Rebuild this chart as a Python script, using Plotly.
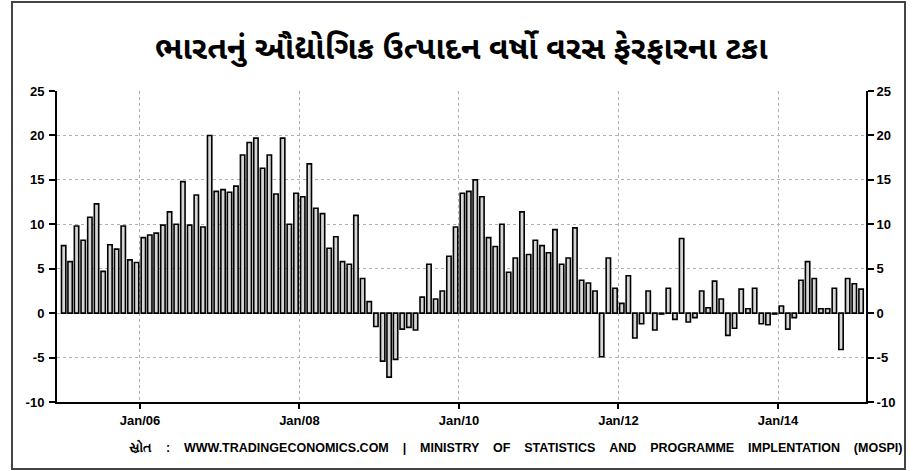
import plotly.graph_objects as go
import pandas as pd

# ---- data (year-on-year % change, monthly, Jan 2005 .. Jan 2015) ----
start_month = "2005-01-01"
values_2005 = [7.6, 5.8, 9.8, 8.2, 10.8, 12.3, 4.7, 7.7, 7.2, 9.8, 6.0, 5.7]
values_2006 = [8.5, 8.8, 9.0, 9.9, 11.4, 10.0, 14.8, 9.9, 13.3, 9.7, 20.0, 13.7]
values_2007 = [13.9, 13.6, 14.3, 17.8, 19.2, 19.7, 16.3, 17.8, 13.4, 19.7, 10.0, 13.5]
values_2008 = [13.1, 16.8, 11.8, 11.2, 7.3, 8.6, 5.8, 5.5, 11.0, 3.9, 1.3, -1.5]
values_2009 = [-5.4, -7.2, -5.2, -1.8, -1.6, -1.9, 1.8, 5.5, 1.6, 2.5, 6.4, 9.7]
values_2010 = [13.5, 13.7, 15.0, 13.1, 8.5, 7.5, 10.0, 4.6, 6.2, 11.4, 6.6, 8.2]
values_2011 = [7.6, 6.8, 9.4, 5.5, 6.2, 9.6, 3.7, 3.4, 2.5, -4.9, 6.2, 2.8]
values_2012 = [1.1, 4.2, -2.8, -1.2, 2.5, -1.9, -0.1, 2.8, -0.7, 8.4, -1.0, -0.5]
values_2013 = [2.5, 0.6, 3.6, 1.6, -2.5, -1.7, 2.7, 0.5, 2.8, -1.2, -1.3, -0.1]
values_2014 = [0.8, -1.8, -0.5, 3.7, 5.8, 3.9, 0.5, 0.5, 2.8, -4.1, 3.9, 3.3]
values_2015 = [2.7]

y_ticks = [-10, -5, 0, 5, 10, 15, 20, 25]
y_tick_labels = ["-10", "-5", "0", "5", "10", "15", "20", "25"]
title_text = "ભારતનું ઔદ્યોગિક ઉત્પાદન વર્ષો વરસ ફેરફારના ટકા"
source_words = ["સ્રોત", ":", "WWW.TRADINGECONOMICS.COM", "|", "MINISTRY", "OF", "STATISTICS",
                "AND", "PROGRAMME", "IMPLENTATION", "(MOSPI)"]

values = (values_2005 + values_2006 + values_2007 + values_2008 + values_2009 +
          values_2010 + values_2011 + values_2012 + values_2013 + values_2014 + values_2015)
months = pd.date_range(start_month, periods=len(values), freq="MS")
source_text = " \u00a0\u00a0\u00a0".join(source_words)

# ---- layout geometry (pixels) ----
W, H = 913, 471
L, R, T, B = 57, 47, 91, 69
pw, ph = W - L - R, H - T - B

def px_x(x):
    return (x - L) / pw

def px_y(y):
    return (H - B - y) / ph

tick_font = dict(family="Liberation Sans, Arial, sans-serif", size=13, color="black", weight="bold")
grid_style = dict(showgrid=True, gridcolor="#b0b0b0", gridwidth=1, griddash="dot")

fig = go.Figure()
fig.add_trace(go.Bar(
    x=months, y=values,
    xperiod="M1", xperiodalignment="middle",
    width=20 * 24 * 3600 * 1000,
    marker=dict(color="#d6d6d6", line=dict(color="black", width=1.6)),
    showlegend=False,
))
# invisible companion trace so the right-hand axis is drawn
fig.add_trace(go.Scatter(
    x=months, y=values, yaxis="y2", mode="markers",
    marker=dict(opacity=0), hoverinfo="skip", showlegend=False,
))

fig.update_layout(
    width=W, height=H,
    margin=dict(l=L, r=R, t=T, b=B),
    paper_bgcolor="white", plot_bgcolor="white",
    xaxis=dict(
        type="date",
        range=["2004-12-17", "2015-02-08"],
        tick0="2006-01-01", dtick="M24", tickformat="%b/%y",
        showline=True, linecolor="black", linewidth=2,
        ticks="outside", ticklen=5, tickwidth=2, tickcolor="black",
        tickfont=tick_font,
        zeroline=False,
        **grid_style,
    ),
    yaxis=dict(
        range=[-10, 25], tickvals=y_ticks, ticktext=y_tick_labels,
        showline=True, linecolor="black", linewidth=2,
        ticks="outside", ticklen=6, tickwidth=2, tickcolor="black",
        tickfont=tick_font, ticklabelstandoff=2,
        zeroline=False,
        **grid_style,
    ),
    yaxis2=dict(
        range=[-10, 25], tickvals=y_ticks, ticktext=y_tick_labels,
        overlaying="y", side="right",
        showline=True, linecolor="black", linewidth=2,
        ticks="outside", ticklen=6, tickwidth=2, tickcolor="black",
        tickfont=tick_font, ticklabelstandoff=0,
        showgrid=False, zeroline=False,
    ),
    shapes=[dict(
        type="rect", xref="paper", yref="paper",
        x0=px_x(12), x1=px_x(905), y0=px_y(469), y1=px_y(2),
        line=dict(color="#444444", width=2), fillcolor="rgba(0,0,0,0)", layer="above",
    )],
    annotations=[
        dict(
            text=title_text, xref="paper", yref="paper",
            x=px_x(461), y=px_y(51), xanchor="center", yanchor="middle",
            showarrow=False,
            font=dict(family="Noto Sans Gujarati, Lohit Gujarati, Noto Sans, sans-serif",
                      size=32, color="black", weight="bold"),
        ),
        dict(
            text=source_text, xref="paper", yref="paper",
            x=px_x(904), y=px_y(447), xanchor="right", yanchor="middle",
            showarrow=False,
            font=dict(family="Liberation Sans, Arial, sans-serif", size=12.5,
                      color="black", weight="bold"),
        ),
    ],
)

fig.write_html("out.html", config={"displayModeBar": False},
               post_script="document.body.style.margin='0px';document.body.style.overflow='hidden';")
